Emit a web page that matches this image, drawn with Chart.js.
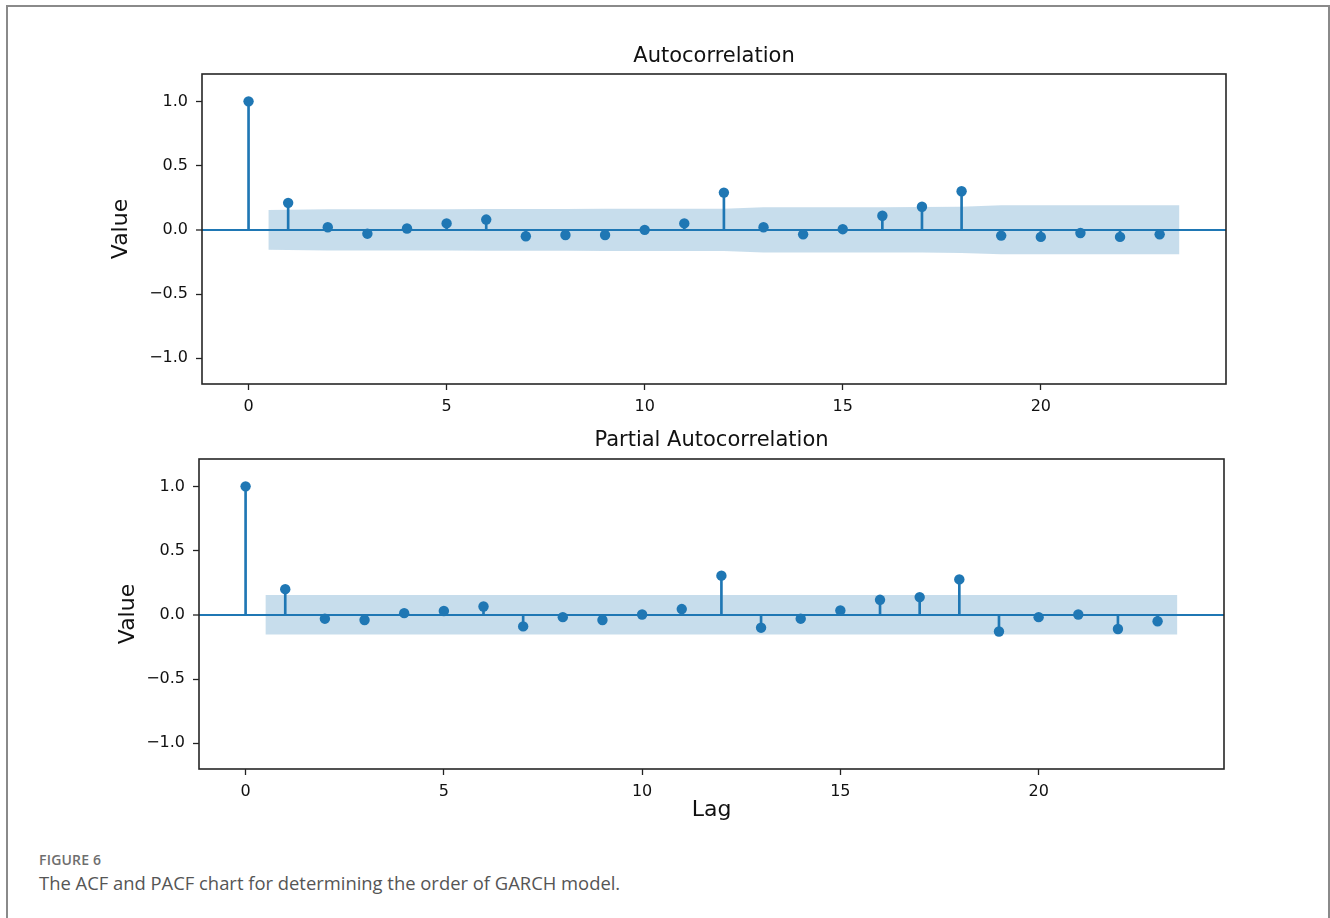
<!DOCTYPE html>
<html>
<head>
<meta charset="utf-8">
<script src="https://cdn.jsdelivr.net/npm/chart.js@4.4.1/dist/chart.umd.min.js"></script>
<style>
  html, body { margin:0; padding:0; background:#fff; width:1330px; height:918px; overflow:hidden; }
  #frame { position:absolute; left:6px; top:5px; width:1324px; height:960px; border:2px solid #8a8a8a; border-bottom:none; box-sizing:border-box; }
  .cv { position:absolute; left:0; }
  #cap1 { position:absolute; left:39px; top:850px; font-family:"Open Sans", sans-serif; font-size:14px; line-height:19px; font-weight:600; color:#6e6e6e; letter-spacing:0.2px; }
  #cap2 { position:absolute; left:39px; top:870px; font-family:"Open Sans", sans-serif; font-size:18.4px; line-height:25px; color:#555; }
</style>
</head>
<body>
<div id="frame"></div>
<canvas id="acf" class="cv" width="1330" height="420" style="top:0px"></canvas>
<canvas id="pacf" class="cv" width="1330" height="420" style="top:420px"></canvas>
<div id="cap1">FIGURE 6</div>
<div id="cap2">The ACF and PACF chart for determining the order of GARCH model.</div>
<script>
// ---- data ----
const lags = [0,1,2,3,4,5,6,7,8,9,10,11,12,13,14,15,16,17,18,19,20,21,22,23];
const acfValues = [1.0,0.21,0.02,-0.03,0.01,0.05,0.08,-0.05,-0.04,-0.04,0.0,0.05,0.29,0.02,-0.035,0.005,0.11,0.18,0.30,-0.045,-0.055,-0.025,-0.055,-0.035];
const pacfValues = [1.0,0.20,-0.03,-0.04,0.013,0.03,0.065,-0.09,-0.018,-0.04,0.003,0.045,0.305,-0.10,-0.03,0.034,0.117,0.138,0.276,-0.13,-0.018,0.003,-0.11,-0.05];
const bandLags = [0.5,2,3,4,5,6,7,8,9,10,11,12,13,14,15,16,17,18,19,20,21,22,23.5];
const acfConf = [0.155,0.161,0.161,0.161,0.161,0.162,0.162,0.163,0.164,0.164,0.164,0.165,0.176,0.176,0.176,0.176,0.177,0.180,0.191,0.191,0.191,0.191,0.191];
const pacfConf = [0.154,0.154,0.154,0.154,0.154,0.154,0.154,0.154,0.154,0.154,0.154,0.154,0.154,0.154,0.154,0.154,0.154,0.154,0.154,0.154,0.154,0.154,0.154];
const xTicks = [0,5,10,15,20];
const yTicks = [-1.0,-0.5,0.0,0.5,1.0];
const yTickLabels = ['\u22121.0','\u22120.5','0.0','0.5','1.0'];
const xRange = [-1.175, 24.675];
const yRange = [-1.2, 1.213];

const C0 = '#1f77b4';
const BAND = 'rgba(31,119,180,0.25)';
const FONT = 'DejaVu Sans';

const framePlugin = {
  id: 'frame',
  afterDatasetsDraw(chart) {
    const a = chart.chartArea, c = chart.ctx;
    c.save();
    c.strokeStyle = '#262626';
    c.lineWidth = 1.6;
    c.strokeRect(a.left, a.top, a.right - a.left, a.bottom - a.top);
    c.restore();
  }
};

function makeChart(id, values, conf, opt) {
  const ctx = document.getElementById(id).getContext('2d');
  return new Chart(ctx, {
    type: 'scatter',
    data: {
      datasets: [
        { type:'line', data: bandLags.map((x,i)=>({x, y: conf[i]})), borderWidth:0, pointRadius:0, tension:0, fill:false, backgroundColor:BAND, borderColor:'rgba(0,0,0,0)', order:5 },
        { type:'line', data: bandLags.map((x,i)=>({x, y: -conf[i]})), borderWidth:0, pointRadius:0, tension:0, fill:'-1', backgroundColor:BAND, borderColor:'rgba(0,0,0,0)', order:4 },
        { type:'bar', data: lags.map((x,i)=>({x, y: values[i]})), backgroundColor:C0, borderWidth:0, barThickness:2, order:2 },
        { type:'scatter', data: lags.map((x,i)=>({x, y: values[i]})), backgroundColor:C0, borderWidth:0, pointRadius:5.2, pointHoverRadius:5.2, order:1 }
      ]
    },
    options: {
      responsive:false,
      animation:false,
      events:[],
      layout:{ padding:{ left:0, right:opt.padRight, top:0, bottom:opt.padBottom } },
      plugins:{
        legend:{ display:false },
        tooltip:{ enabled:false },
        title:{ display:true, fullSize:false, text:opt.title, color:'#111', font:{ family:FONT, size:21, weight:'normal', lineHeight:1.2 }, padding:{ top:opt.titleTop, bottom:opt.titleBottom } }
      },
      scales:{
        x:{
          type:'linear', min:xRange[0], max:xRange[1], offset:false,
          afterBuildTicks: s => { s.ticks = xTicks.map(v=>({value:v})); },
          afterFit: s => { s.height = opt.xHeight; },
          ticks:{ color:'#111', font:{ family:FONT, size:16 }, padding:7, autoSkip:false, maxRotation:0, callback: v => String(v) },
          grid:{ offset:false, drawOnChartArea:false, drawTicks:true, tickLength:6, tickColor:'#222', tickWidth:1.3 },
          border:{ display:false },
          title:{ display: !!opt.xTitle, text: opt.xTitle || '', color:'#111', font:{ family:FONT, size:22, lineHeight:1.2 }, padding:{ top:0, bottom:opt.xTitleBottom || 0 } }
        },
        y:{
          type:'linear', min:yRange[0], max:yRange[1],
          afterBuildTicks: s => { s.ticks = yTicks.map(v=>({value:v})); },
          afterFit: s => { s.width = opt.yWidth; },
          ticks:{ color:'#111', font:{ family:FONT, size:16 }, padding:8, autoSkip:false, callback: v => { const k = yTicks.indexOf(v); return k >= 0 ? yTickLabels[k] : ''; } },
          grid:{ drawOnChartArea:true, drawTicks:true, tickLength:6, tickColor:'#222', tickWidth:1.3,
                 color: c => (c.tick && c.tick.value === 0) ? C0 : 'rgba(0,0,0,0)',
                 lineWidth: c => (c.tick && c.tick.value === 0) ? 2 : 1 },
          border:{ display:false },
          title:{ display:true, text:'Value', color:'#111', font:{ family:FONT, size:22, lineHeight:1.2 }, padding:{ top:opt.yTitleTop, bottom:0 } }
        }
      }
    },
    plugins:[framePlugin]
  });
}

makeChart('acf', acfValues, acfConf, {
  title:'Autocorrelation', padRight:104, padBottom:0, titleTop:43.8, titleBottom:5,
  xHeight:36, yWidth:202, yTitleTop:108
});
makeChart('pacf', pacfValues, pacfConf, {
  title:'Partial Autocorrelation', padRight:106, padBottom:0, titleTop:8.4, titleBottom:5.4,
  xHeight:71, yWidth:199, yTitleTop:115.5, xTitle:'Lag', xTitleBottom:17
});
</script>
</body>
</html>
